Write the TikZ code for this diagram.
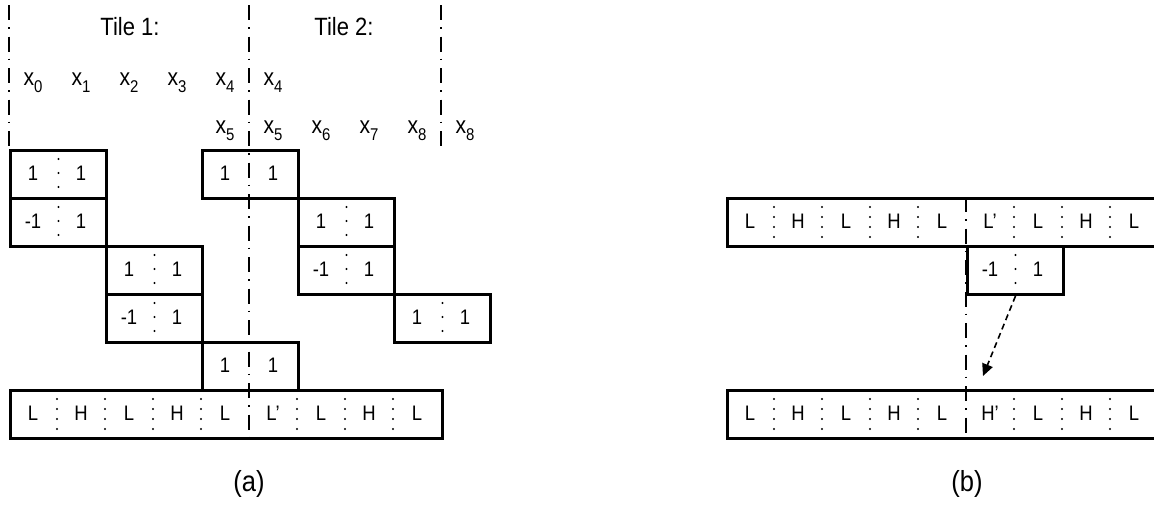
\documentclass[tikz,border=0pt]{standalone}
\usepackage{fontspec}
\setmainfont{Liberation Sans}[FakeStretch=0.88]
\usetikzlibrary{arrows.meta}
\newcommand\xlab[1]{x\raisebox{-7pt}{\fontsize{17}{17}\selectfont #1}}
\tikzset{
  boxnode/.style={draw, line width=3pt, minimum height=48pt, inner sep=0pt, anchor=north west},
  celltxt/.style={anchor=base, font=\fontsize{21}{21}\selectfont, inner sep=0pt},
  sepdots/.style={line width=2.3pt, line cap=round, dash pattern=on 0pt off 14pt},
  bardots/.style={line width=2.3pt, line cap=round, dash pattern=on 0pt off 10pt},
  tileline/.style={line width=2.2pt, dash pattern=on 15pt off 7pt on 1.5pt off 8pt},
  tiletxt/.style={anchor=base, font=\fontsize{25}{25}\selectfont, inner sep=0pt},
  xtxt/.style={anchor=base, font=\fontsize{24}{24}\selectfont, inner sep=0pt},
  captxt/.style={anchor=base, font=\fontsize{29}{29}\selectfont, inner sep=0pt},
  movearrow/.style={line width=1.6pt, dash pattern=on 6pt off 4pt, -{Triangle[length=12pt,width=11pt]}}
}
\begin{document}
\begin{tikzpicture}[x=1pt,y=-1pt]
\useasboundingbox (0,0) rectangle (1154,504);
% ---------- panel (a) ----------
\node[tiletxt] (tile1) at (130,35) {Tile 1:};
\node[tiletxt] (tile2) at (344,35) {Tile 2:};
\foreach \i/\x in {0/33,1/81,2/129,3/177,4/225}{
  \node[xtxt] (xa\i) at (\x,85) {\xlab{\i}};
}
\node[xtxt] (xb4) at (273,85) {\xlab{4}};
\node[xtxt] (xc5) at (225,133) {\xlab{5}};
\foreach \i/\x in {5/273,6/321,7/369,8/417}{
  \node[xtxt] (xd\i) at (\x,133) {\xlab{\i}};
}
\node[xtxt] (xe8) at (465,133) {\xlab{8}};

% small boxes with dotted separator
\foreach \n/\x/\y/\t in {r1a/9/149/1, r2a/9/197/-1, r2b/297/197/1, r3a/105/245/1, r3b/297/245/-1, r4a/105/293/-1, r4b/393/293/1, rb/966/245/-1}{
  \node[boxnode, minimum width=96pt] (\n) at (\x,\y) {};
  \node[celltxt] (\n-l) at ([xshift=24pt,yshift=-31pt]\n.north west) {\t};
  \node[celltxt] (\n-r) at ([xshift=72pt,yshift=-31pt]\n.north west) {1};
  \draw[sepdots] ([yshift=-10pt]\n.north) -- (\n.south);
}
% boxes crossed by the tile boundary
\foreach \n/\x/\y in {r1b/201/149, r5/201/341}{
  \node[boxnode, minimum width=96pt] (\n) at (\x,\y) {};
  \node[celltxt] (\n-l) at ([xshift=24pt,yshift=-31pt]\n.north west) {1};
  \node[celltxt] (\n-r) at ([xshift=72pt,yshift=-31pt]\n.north west) {1};
}

% bars
\node[boxnode, minimum width=432pt] (barA) at (9,389) {};
\node[boxnode, minimum width=432pt] (barB) at (726,197) {};
\node[boxnode, minimum width=432pt] (barC) at (726,389) {};
\foreach \b/\txt in {barA/{L,H,L,H,L,L’,L,H,L}, barB/{L,H,L,H,L,L’,L,H,L}, barC/{L,H,L,H,L,H’,L,H,L}}{
  \foreach \c [count=\k from 0] in \txt {
    \node[celltxt] (\b-\k) at ([xshift={24+48*\k},yshift=-31pt]\b.north west) {\c};
  }
  \foreach \k in {1,2,3,4,6,7,8}{
    \draw[bardots] ([xshift={48*\k},yshift=-10pt]\b.north west) -- ([xshift={48*\k},yshift=2pt]\b.south west);
  }
}

% tile boundaries
\coordinate (ta) at (9,5);
\coordinate (tb) at (249,5);
\coordinate (tc) at (441,5);
\coordinate (tbEnd) at (249,437);
\coordinate (tcEnd) at (441,150);
\coordinate (tdTop) at (966,197);
\coordinate (tdEnd) at (966,437);
\draw[tileline] (ta) -- (r1a.north west);
\draw[tileline] (tb) -- (tbEnd);
\draw[tileline] (tc) -- (tcEnd);
\draw[tileline] (tdTop) -- (tdEnd);

% arrow
\coordinate (arrEnd) at (983,376);
\draw[movearrow] (rb.south) -- (arrEnd);

% captions
\node[captxt] (capa) at (249,491) {(a)};
\node[captxt] (capb) at (967,491) {(b)};
\end{tikzpicture}
\end{document}
